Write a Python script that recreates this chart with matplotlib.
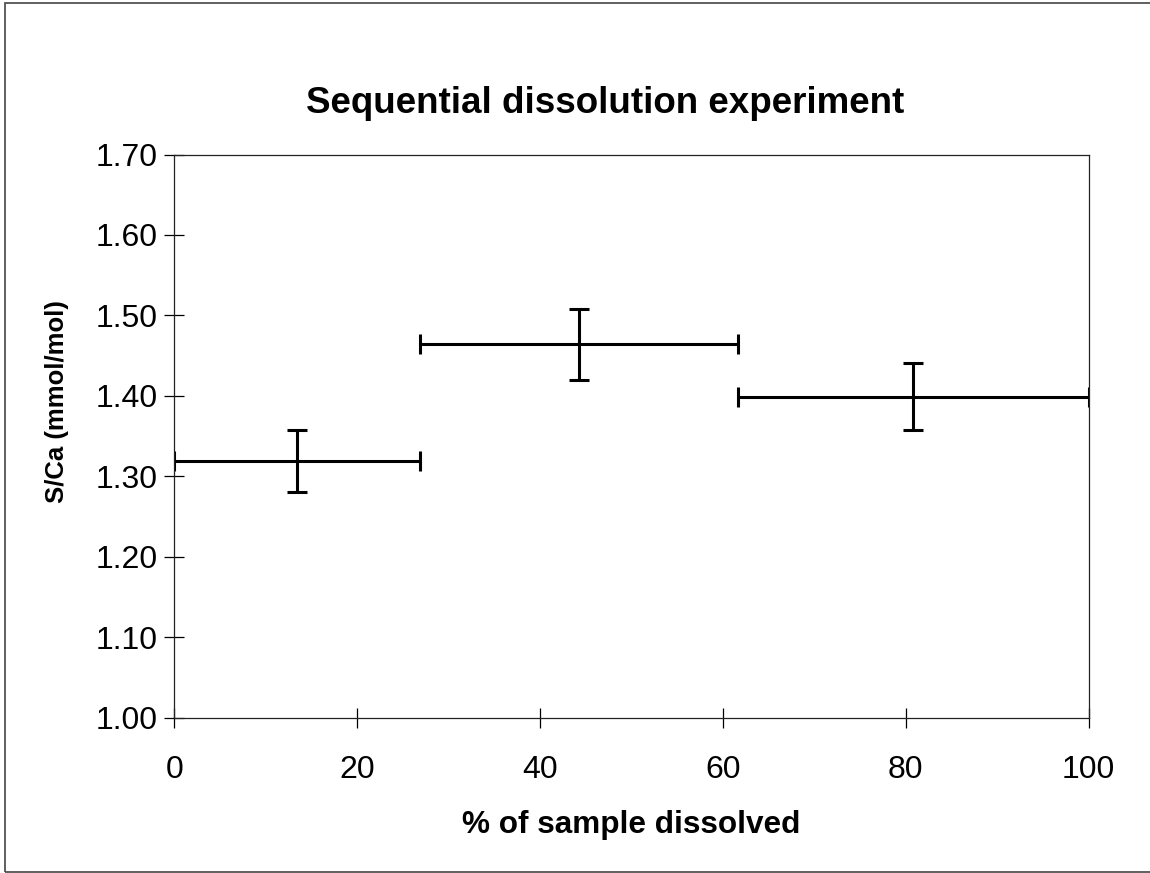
import numpy as np
import matplotlib.pyplot as plt
from matplotlib.patches import Rectangle

# dissolution steps: % of sample dissolved at start/end of each step
step_start = [0.0, 26.9, 61.6]
step_end = [26.9, 61.6, 100.0]
s_ca = [1.319, 1.464, 1.399]
s_ca_err = [0.039, 0.044, 0.042]

x_mid = (np.array(step_start) + np.array(step_end)) / 2
x_half = (np.array(step_end) - np.array(step_start)) / 2

plt.rcParams['font.family'] = ['Liberation Sans', 'DejaVu Sans']

fig = plt.figure(figsize=(11.5, 8.73), dpi=100)
ax = fig.add_axes([0.1516, 0.1781, 0.7951, 0.6449])

ax.errorbar(x_mid, s_ca, xerr=x_half, yerr=s_ca_err, fmt='none',
            ecolor='black', elinewidth=2.2, capsize=7, capthick=2.2)

ax.set_xlim(0, 100)
ax.set_ylim(1.0, 1.7)
ax.set_xticks([0, 20, 40, 60, 80, 100])
ax.set_yticks(np.arange(1.0, 1.71, 0.1))
ax.set_yticklabels(['%.2f' % v for v in np.arange(1.0, 1.71, 0.1)])
ax.tick_params(direction='inout', length=14, width=0.9, labelsize=23)
ax.tick_params(axis='x', pad=20)
ax.tick_params(axis='y', pad=5)
for sp in ax.spines.values():
    sp.set_linewidth(0.9)
    sp.set_color('#222222')

# titles placed in figure coords (chart title centred on the whole chart area)
fig.text(0.526, 0.8706, 'Sequential dissolution experiment', fontsize=26.5,
         fontweight='bold', ha='center', va='baseline')
fig.text(0.549, 0.046, '% of sample dissolved', fontsize=22.7,
         fontweight='bold', ha='center', va='baseline')
fig.text(0.0496, 0.5395, 'S/Ca (mmol/mol)', fontsize=18.5, fontweight='bold',
         rotation=90, ha='center', va='center')

# thin frame round the chart (right edge runs off the page)
fig.patches.append(Rectangle((0.0045, 0.0015), 1.05, 0.9955,
                             transform=fig.transFigure, fill=False,
                             edgecolor='#444444', linewidth=1.2))

fig.savefig('out.png', dpi=100)
